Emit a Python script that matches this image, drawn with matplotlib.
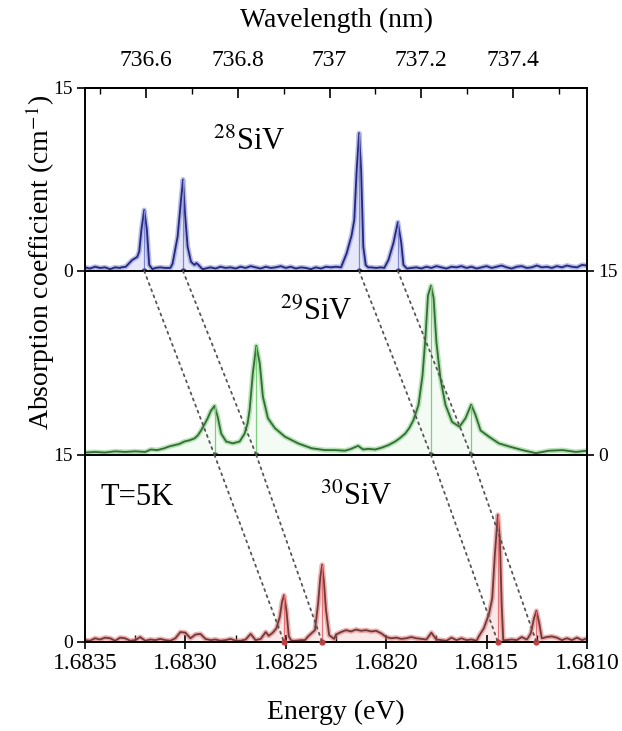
import numpy as np
import matplotlib
matplotlib.use("Agg")
import matplotlib.pyplot as plt
from matplotlib.patches import ConnectionPatch
from matplotlib.ticker import MultipleLocator, FixedLocator, FormatStrFormatter

plt.rcParams['font.family'] = ['Liberation Serif', 'DejaVu Serif']
plt.rcParams['mathtext.fontset'] = 'stix'

HC = 1239.84193  # eV*nm, energy <-> wavelength

# baseline readings on a common grid, 1.6835 -> 1.6810 eV in 25 ueV steps
grid_energy = np.linspace(1.6835, 1.6810, 101)

# ---- 28SiV (top) ----
base_28 = [0.30, 0.20, 0.35, 0.25, 0.30, 0.15, 0.30, 0.25, 0.35, 0.40,
           1.10, 2.50, 4.50, 0.40, 0.25, 0.30, 0.25, 0.30, 1.80, 5.50,
           4.50, 0.90, 0.55, 0.30, 0.20, 0.30, 0.20, 0.35, 0.25, 0.30,
           0.20, 0.35, 0.25, 0.40, 0.30, 0.20, 0.35, 0.25, 0.30, 0.40,
           0.25, 0.35, 0.20, 0.30, 0.25, 0.15, 0.30, 0.20, 0.35, 0.30,
           0.35, 0.40, 1.60, 3.50, 11.0, 3.00, 0.40, 0.30, 0.25, 0.30,
           0.70, 1.80, 3.80, 2.50, 0.40, 0.25, 0.30, 0.20, 0.35, 0.25,
           0.40, 0.30, 0.20, 0.35, 0.30, 0.40, 0.25, 0.35, 0.20, 0.30,
           0.40, 0.25, 0.35, 0.45, 0.30, 0.20, 0.35, 0.40, 0.25, 0.30,
           0.45, 0.30, 0.35, 0.25, 0.40, 0.30, 0.45, 0.35, 0.30, 0.50,
           0.45]
lines_28 = [
    ([1.683320, 1.683297, 1.683265, 1.683240, 1.683230, 1.683219, 1.683205,
      1.683192, 1.683180, 1.683164, 1.683150],
     [0.30, 0.35, 0.90, 1.15, 1.60, 3.40, 5.00, 3.40, 0.50, 0.15, 0.25]),
    ([1.683075, 1.683064, 1.683039, 1.683022, 1.683012, 1.683002, 1.682989,
      1.682972, 1.682955, 1.682945, 1.682935, 1.682915],
     [0.25, 0.60, 2.80, 5.80, 7.50, 4.70, 2.00, 0.75, 0.50, 0.65, 0.50, 0.15]),
    ([1.682225, 1.682197, 1.682172, 1.682159, 1.682147, 1.682135, 1.682125,
      1.682114, 1.682102, 1.682090],
     [0.30, 1.45, 2.95, 4.20, 8.30, 11.3, 8.30, 2.00, 0.50, 0.30]),
    ([1.682010, 1.681989, 1.681964, 1.681942, 1.681925, 1.681914, 1.681897],
     [0.25, 0.90, 2.30, 4.00, 2.30, 0.50, 0.20]),
]
peaks_28 = [1.683205, 1.683012, 1.682135, 1.681942]

# ---- 29SiV (middle) ----
energy_29 = [1.683500, 1.683450, 1.683400, 1.683350, 1.683300, 1.683250, 1.683200,
             1.683172, 1.683140, 1.683105, 1.683080, 1.683055, 1.683030, 1.683005,
             1.682980, 1.682955, 1.682938, 1.682922, 1.682905, 1.682889, 1.682873,
             1.682855, 1.682839, 1.682822, 1.682797, 1.682764, 1.682730, 1.682705,
             1.682690, 1.682680, 1.682664, 1.682647, 1.682630, 1.682614, 1.682589,
             1.682555, 1.682505, 1.682439, 1.682372, 1.682305, 1.682255, 1.682205,
             1.682175, 1.682140, 1.682115, 1.682090, 1.682055, 1.682022, 1.681990,
             1.681955, 1.681930, 1.681905, 1.681885, 1.681864, 1.681839, 1.681819,
             1.681805, 1.681792, 1.681777, 1.681764, 1.681750, 1.681730, 1.681705,
             1.681672, 1.681635, 1.681605, 1.681577, 1.681555, 1.681530, 1.681489,
             1.681439, 1.681389, 1.681322, 1.681255, 1.681189, 1.681122, 1.681055,
             1.681000]
absorb_29 = [0.20, 0.25, 0.20, 0.30, 0.25, 0.30, 0.25,
             0.45, 0.40, 0.55, 0.70, 0.80, 0.90, 1.10,
             1.20, 1.35, 1.60, 2.00, 2.50, 3.00, 3.60,
             4.00, 3.10, 1.75, 1.10, 0.95, 1.10, 1.75,
             2.60, 3.70, 6.70, 8.90, 7.50, 4.75, 3.00,
             2.20, 1.50, 0.95, 0.55, 0.40, 0.40, 0.35,
             0.50, 0.75, 0.45, 0.50, 0.45, 0.60, 0.80,
             1.10, 1.40, 1.75, 2.20, 2.85, 4.10, 6.50,
             9.50, 13.0, 13.8, 12.8, 9.20, 6.25, 4.10,
             2.70, 2.30, 3.00, 4.10, 3.25, 2.00, 1.50,
             0.95, 0.70, 0.40, 0.15, 0.35, 0.40, 0.25,
             0.35]
peaks_29 = [1.682855, 1.682647, 1.681777, 1.681577]

# ---- 30SiV (bottom) ----
base_30 = [0.15, 0.10, 0.30, 0.20, 0.35, 0.30, 0.10, 0.35, 0.30, 0.10,
           0.15, 0.40, 0.10, 0.20, 0.15, 0.25, 0.15, 0.10, 0.30, 0.80,
           0.75, 0.30, 0.60, 0.65, 0.25, 0.15, 0.20, 0.10, 0.15, 0.25,
           0.10, 0.10, 0.20, 0.65, 0.15, 0.25, 0.80, 0.60, 0.75, 2.00,
           2.60, 0.15, 0.10, 0.15, 0.20, 0.45, 0.95, 5.00, 2.60, 0.40,
           0.60, 0.80, 0.95, 0.85, 1.00, 0.90, 0.95, 0.85, 0.90, 0.70,
           0.40, 0.30, 0.35, 0.25, 0.30, 0.40, 0.30, 0.25, 0.20, 0.75,
           0.20, 0.15, 0.10, 0.35, 0.15, 0.30, 0.15, 0.20, 0.10, 0.45,
           1.70, 5.00, 9.00, 2.00, 0.15, 0.20, 0.15, 0.40, 0.20, 0.60,
           2.40, 0.60, 0.40, 0.45, 0.35, 0.15, 0.30, 0.15, 0.35, 0.15,
           0.30]
lines_30 = [
    ([1.682585, 1.682565, 1.682547, 1.682530, 1.682519, 1.682509, 1.682497,
      1.682485, 1.682472],
     [0.50, 0.75, 1.10, 2.00, 3.20, 3.75, 2.55, 0.45, 0.10]),
    ([1.682405, 1.682389, 1.682355, 1.682339, 1.682328, 1.682319, 1.682310,
      1.682300, 1.682284, 1.682259],
     [0.15, 0.45, 0.95, 3.10, 5.20, 6.20, 4.80, 2.60, 0.55, 0.25]),
    ([1.681539, 1.681514, 1.681489, 1.681472, 1.681459, 1.681444, 1.681434,
      1.681425, 1.681417],
     [0.45, 1.10, 2.20, 3.50, 7.00, 10.2, 8.30, 3.00, 0.15]),
    ([1.681295, 1.681280, 1.681264, 1.681252, 1.681239, 1.681225],
     [0.30, 0.70, 1.90, 2.50, 1.60, 0.30]),
]
peaks_30 = [1.682509, 1.682319, 1.681444, 1.681252]


def build_curve(base, segments):
    e = grid_energy
    a = np.asarray(base, float)
    keep = np.ones(len(e), bool)
    for se, sa in segments:
        keep &= ~((e >= min(se) - 1e-9) & (e <= max(se) + 1e-9))
    E = np.concatenate([e[keep]] + [np.asarray(se) for se, sa in segments])
    A = np.concatenate([a[keep]] + [np.asarray(sa) for se, sa in segments])
    order = np.argsort(E)
    return E[order], A[order]


def draw_panel(ax, E, A, peaks, line_c, halo_c, fill_c, dot_c, fill_alpha):
    E = np.asarray(E)
    A = np.asarray(A)
    order = np.argsort(E)
    E, A = E[order], A[order]
    ax.fill_between(E, 0, A, color=fill_c, alpha=fill_alpha, lw=0)
    ax.plot(E, A, color=halo_c, lw=3.6, alpha=0.55, solid_joinstyle='round')
    ax.plot(E, A, color=line_c, lw=1.3, solid_joinstyle='round')
    h = np.interp(peaks, E, A)
    ax.vlines(peaks, 0, h, color=halo_c, lw=0.9)
    ax.plot(peaks, np.zeros(len(peaks)), 'o', ms=3.5, color=dot_c,
            clip_on=False, zorder=6)
    ax.set_xlim(1.6835, 1.6810)
    ax.set_ylim(0, 15)
    for s in ax.spines.values():
        s.set_linewidth(1.4)
    ax.tick_params(which='both', bottom=False, top=False, left=False,
                   right=False, labelbottom=False, labelleft=False)


fig = plt.figure(figsize=(6.22, 7.31), dpi=100)
L, W = 85 / 622, 502 / 622
ax_top = fig.add_axes([L, 1 - 271 / 731, W, 183 / 731])
ax_mid = fig.add_axes([L, 1 - 455 / 731, W, 184 / 731])
ax_bot = fig.add_axes([L, 1 - 642 / 731, W, 187 / 731])

e28, a28 = build_curve(base_28, lines_28)
e30, a30 = build_curve(base_30, lines_30)
draw_panel(ax_top, e28, a28, peaks_28, '#24287a', '#7f86d6', '#c9ccf2', '#3a3f9a', 0.45)
draw_panel(ax_mid, energy_29, absorb_29, peaks_29, '#356b35', '#7ccf7c', '#dcf4dc', '#3d8a3d', 0.3)
draw_panel(ax_bot, e30, a30, peaks_30, '#6e3b3b', '#e57373', '#f8cccc', '#c04040', 0.45)

# y ticks: top and bottom panels on the left, middle panel on the right
for ax in (ax_top, ax_bot):
    ax.set_yticks([0, 15])
    ax.tick_params(axis='y', left=True, labelleft=True, direction='out',
                   length=6, width=1.2, labelsize=14, pad=3)
ax_mid.set_yticks([0, 15])
ax_mid.tick_params(axis='y', right=True, labelright=True, direction='out',
                   length=5, width=1.2, labelsize=14, pad=3)

# energy axis
ax_bot.xaxis.set_major_locator(MultipleLocator(0.0005))
ax_bot.xaxis.set_minor_locator(MultipleLocator(0.00025))
ax_bot.xaxis.set_major_formatter(FormatStrFormatter('%.4f'))
ax_bot.tick_params(axis='x', which='major', bottom=True, labelbottom=True,
                   direction='inout', length=10, width=1.2, labelsize=17, pad=3)
ax_bot.tick_params(axis='x', which='minor', bottom=True, direction='in',
                   length=5, width=1.0)

# wavelength axis on top
def to_nm(x):
    return HC / np.asarray(x, float)

sec = ax_top.secondary_xaxis('top', functions=(to_nm, to_nm))
wl_ticks = [736.6, 736.8, 737.0, 737.2, 737.4]
sec.set_xticks(wl_ticks)
sec.set_xticklabels(['736.6', '736.8', '737', '737.2', '737.4'])
sec.xaxis.set_minor_locator(FixedLocator([736.5, 736.7, 736.9, 737.1, 737.3, 737.5]))
sec.tick_params(which='major', direction='in', length=7, width=1.2,
                labelsize=17, pad=12)
sec.tick_params(which='minor', direction='in', length=4, width=1.0)
sec.spines['top'].set_linewidth(1.4)

# dotted guides linking the same transition across isotopes
dot_style = dict(color='#555555', lw=1.3, linestyle=(0, (1.2, 2.4)), zorder=7)
for a, b, c in zip(peaks_28, peaks_29, peaks_30):
    fig.add_artist(ConnectionPatch(xyA=(a, 0), coordsA=ax_top.transData,
                                   xyB=(b, 0), coordsB=ax_mid.transData, **dot_style))
    fig.add_artist(ConnectionPatch(xyA=(b, 0), coordsA=ax_mid.transData,
                                   xyB=(c, 0), coordsB=ax_bot.transData, **dot_style))

ax_top.text(0.255, 0.705, r'$^{28}$SiV', transform=ax_top.transAxes,
            fontsize=22, ha='left', va='center')
ax_mid.text(0.388, 0.777, r'$^{29}$SiV', transform=ax_mid.transAxes,
            fontsize=22, ha='left', va='center')
ax_bot.text(0.468, 0.775, r'$^{30}$SiV', transform=ax_bot.transAxes,
            fontsize=22, ha='left', va='center')
ax_bot.text(0.030, 0.775, 'T=5K', transform=ax_bot.transAxes,
            fontsize=22, ha='left', va='center')

fig.text(336 / 622, 1 - 20 / 731, 'Wavelength (nm)', fontsize=20,
         ha='center', va='center')
fig.text(336 / 622, 1 - 712 / 731, 'Energy (eV)', fontsize=20,
         ha='center', va='center')
fig.text(40 / 622, 1 - 262 / 731, 'Absorption coefficient (cm$^{-1}$)',
         fontsize=20, rotation=90, ha='center', va='center')

fig.savefig('out.png', dpi=100)
